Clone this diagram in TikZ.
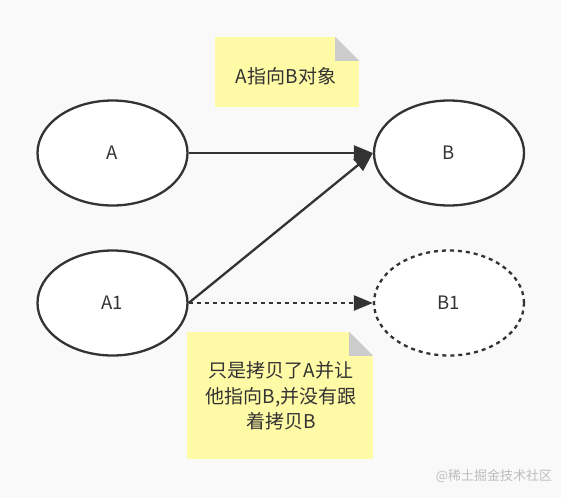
\documentclass[tikz,border=0pt]{standalone}
\usepackage{fontspec}
\setmainfont{Noto Sans CJK SC}
\usetikzlibrary{shapes.geometric,arrows.meta}
\definecolor{bg}{HTML}{F9F9F9}
\definecolor{ink}{HTML}{333333}
\definecolor{notefill}{HTML}{FFFAA5}
\definecolor{foldfill}{HTML}{CCCCCC}
\definecolor{wm}{HTML}{BDBDBD}
\tikzset{
  ell/.style={ellipse, draw=ink, line width=2.3pt, fill=white, minimum width=150pt, minimum height=105pt, inner sep=0pt, text=ink, font=\fontsize{18.5}{22}\selectfont},
  dotell/.style={ell, dash pattern=on 4pt off 4pt},
  notebox/.style={rectangle, fill=notefill, inner sep=0pt, text=ink, align=center, font=\fontsize{18}{25.5}\selectfont},
  conn/.style={draw=ink, line width=2.3pt, -{Triangle[length=19pt,width=15pt]}},
  dotconn/.style={conn, dash pattern=on 4pt off 4pt},
}
\begin{document}
\begin{tikzpicture}[x=1pt,y=-1pt]
\fill[bg] (0,0) rectangle (561,498);
\useasboundingbox (0,0) rectangle (561,498);
% notes
\node[notebox, minimum width=144pt, minimum height=70pt] (n1) at (287,72) {};
\fill[bg] ([shift={(-24,0)}]n1.north east) -- (n1.north east) -- ([shift={(0,24)}]n1.north east) -- cycle;
\fill[foldfill] ([shift={(-24,0)}]n1.north east) -- ([shift={(-24,24)}]n1.north east) -- ([shift={(0,24)}]n1.north east) -- cycle;
\node[text=ink, font=\fontsize{19}{22}\selectfont] (t1) at (286,76) {A指向B对象};
\node[notebox, minimum width=186pt, minimum height=127pt] (n2) at (280,395.5) {};
\fill[bg] ([shift={(-24,0)}]n2.north east) -- (n2.north east) -- ([shift={(0,24)}]n2.north east) -- cycle;
\fill[foldfill] ([shift={(-24,0)}]n2.north east) -- ([shift={(-24,24)}]n2.north east) -- ([shift={(0,24)}]n2.north east) -- cycle;
\node[text=ink, align=center, font=\fontsize{19}{25.5}\selectfont] (t2) at (281,396) {只是拷贝了A并让\\他指向B,并没有跟\\着拷贝B};
% ellipses
\node[ell] (A) at (112.5,153) {A};
\node[ell] (B) at (449,153) {B};
\node[ell] (A1) at (112.5,303) {A1};
\node[dotell] (B1) at (449,303) {B1};
% connectors
\draw[conn] (A.east) -- (B.west);
\draw[conn] (A1.east) -- (B.west);
\draw[dotconn] (A1.east) -- (B1.west);
% watermark
\node[text=wm, font=\fontsize{13}{15}\selectfont] (wmk) at (494,476) {@稀土掘金技术社区};
\end{tikzpicture}
\end{document}
